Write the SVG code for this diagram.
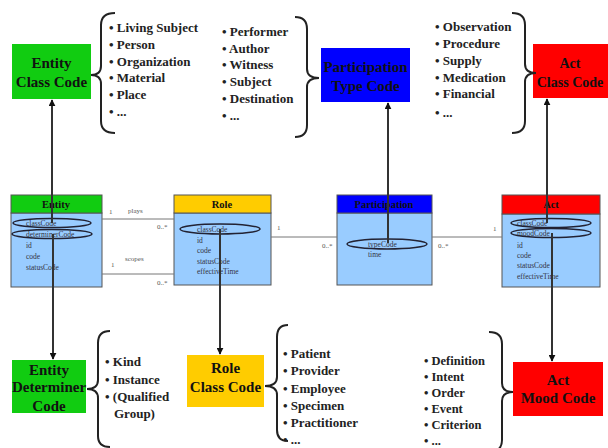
<svg xmlns="http://www.w3.org/2000/svg" width="608" height="448" viewBox="0 0 608 448">
  <defs>
    <marker id="arrow" viewBox="0 0 10 10" refX="9" refY="5" markerWidth="7" markerHeight="7" orient="auto-start-reverse" markerUnits="userSpaceOnUse">
      <path d="M0,0 L10,5 L0,10 z" fill="#111"/>
    </marker>
    <style>
      .title { font-family: "Liberation Serif", serif; font-weight: bold; font-size: 15px; fill: #111; text-anchor: middle; }
      .list { font-family: "Liberation Serif", serif; font-weight: bold; font-size: 13px; fill: #222; }
      .brace { fill: none; stroke: #222; stroke-width: 2; }
      .hdr { stroke: #555; stroke-width: 1; }
      .body { fill: #99ccff; stroke: #555; stroke-width: 1; }
      .cname { font-family: "Liberation Serif", serif; font-weight: bold; font-size: 10.5px; fill: #111; text-anchor: middle; }
      .attr { font-family: "Liberation Serif", serif; font-size: 7.5px; fill: #334; }
      .ell { fill: none; stroke: #223; stroke-width: 1.5; }
      .assoc { stroke: #777; stroke-width: 1; fill: none; }
      .mult { font-family: "Liberation Serif", serif; font-size: 7px; fill: #555; }
      .link { stroke: #333; stroke-width: 2; fill: none; }
    </style>
  </defs>
  <rect width="608" height="448" fill="#ffffff"/>

  <!-- code boxes -->
  <g id="entity-class-code">
    <rect x="12" y="44" width="79" height="55" fill="#11cc11"/>
    <text class="title" x="51.5" y="68">Entity</text>
    <text class="title" x="51.5" y="87">Class Code</text>
  </g>
  <g id="participation-type-code">
    <rect x="321" y="48" width="89" height="54" fill="#0000ff"/>
    <text class="title" x="365.5" y="72">Participation</text>
    <text class="title" x="365.5" y="91">Type Code</text>
  </g>
  <g id="act-class-code">
    <rect x="533" y="44" width="75" height="54" fill="#ff0000"/>
    <text class="title" x="570" y="68" style="font-size:14px">Act</text>
    <text class="title" x="570" y="87" style="font-size:14px">Class Code</text>
  </g>
  <g id="entity-determiner-code">
    <rect x="12" y="360" width="74" height="53" fill="#11cc11"/>
    <text class="title" x="49" y="375">Entity</text>
    <text class="title" x="49" y="392">Determiner</text>
    <text class="title" x="49" y="411">Code</text>
  </g>
  <g id="role-class-code">
    <rect x="187" y="355" width="77" height="52" fill="#ffcc00"/>
    <text class="title" x="225.5" y="373">Role</text>
    <text class="title" x="225.5" y="392">Class Code</text>
  </g>
  <g id="act-mood-code">
    <rect x="513" y="362" width="90" height="54" fill="#ff0000"/>
    <text class="title" x="558" y="385">Act</text>
    <text class="title" x="558" y="403">Mood Code</text>
  </g>

  <!-- value lists with braces -->
  <g id="entity-class-values">
    <path class="brace" d="M115,13 Q101,13 101,25 L101,66 Q101,75 91,75 Q101,75 101,84 L101,121 Q101,133 115,133"/>
    <text class="list" x="109" y="32">• Living Subject</text>
    <text class="list" x="109" y="49">• Person</text>
    <text class="list" x="109" y="66">• Organization</text>
    <text class="list" x="109" y="82">• Material</text>
    <text class="list" x="109" y="99">• Place</text>
    <text class="list" x="109" y="116">• ...</text>
  </g>
  <g id="participation-type-values">
    <text class="list" x="222" y="36">• Performer</text>
    <text class="list" x="222" y="53">• Author</text>
    <text class="list" x="222" y="69">• Witness</text>
    <text class="list" x="222" y="86">• Subject</text>
    <text class="list" x="222" y="103">• Destination</text>
    <text class="list" x="222" y="120">• ...</text>
    <path class="brace" d="M295,17 Q307,17 307,29 L307,69 Q307,78 319,78 Q307,78 307,87 L307,125 Q307,137 295,137"/>
  </g>
  <g id="act-class-values">
    <text class="list" x="435" y="31">• Observation</text>
    <text class="list" x="435" y="48">• Procedure</text>
    <text class="list" x="435" y="65">• Supply</text>
    <text class="list" x="435" y="82">• Medication</text>
    <text class="list" x="435" y="98">• Financial</text>
    <text class="list" x="435" y="117">• ...</text>
    <path class="brace" d="M512,13 Q525,13 525,25 L525,64 Q525,73 536,73 Q525,73 525,82 L525,121 Q525,133 512,133"/>
  </g>
  <g id="entity-determiner-values">
    <path class="brace" d="M110,331 Q98,331 98,343 L98,380 Q98,389 87,389 Q98,389 98,398 L98,436 Q98,447 110,447"/>
    <text class="list" x="105" y="366">• Kind</text>
    <text class="list" x="105" y="384">• Instance</text>
    <text class="list" x="105" y="401">• (Qualified</text>
    <text class="list" x="114" y="418">Group)</text>
  </g>
  <g id="role-class-values">
    <path class="brace" d="M288,325 Q277,325 277,337 L277,377 Q277,386 265,386 Q277,386 277,395 L277,430 Q277,441 288,441"/>
    <text class="list" x="283" y="358">• Patient</text>
    <text class="list" x="283" y="375">• Provider</text>
    <text class="list" x="283" y="393">• Employee</text>
    <text class="list" x="283" y="410">• Specimen</text>
    <text class="list" x="283" y="427">• Practitioner</text>
    <text class="list" x="283" y="444">• ...</text>
  </g>
  <g id="act-mood-values" style="font-size:12.5px">
    <text class="list" x="424" y="365" style="font-size:12.5px">• Definition</text>
    <text class="list" x="424" y="381" style="font-size:12.5px">• Intent</text>
    <text class="list" x="424" y="397" style="font-size:12.5px">• Order</text>
    <text class="list" x="424" y="413" style="font-size:12.5px">• Event</text>
    <text class="list" x="424" y="429" style="font-size:12.5px">• Criterion</text>
    <text class="list" x="424" y="445" style="font-size:12.5px">• ...</text>
    <path class="brace" d="M489,332 Q502,332 502,344 L502,383 Q502,392 513,392 Q502,392 502,401 L502,440 Q502,452 489,452"/>
  </g>

  <!-- class boxes -->
  <g id="entity">
    <rect class="body" x="11" y="213" width="91" height="74"/>
    <rect class="hdr" x="11" y="195" width="91" height="18" fill="#11cc11"/>
    <text class="cname" x="56" y="208">Entity</text>
    <text class="attr" x="26" y="226">classCode</text>
    <text class="attr" x="26" y="237">determinerCode</text>
    <text class="attr" x="26" y="248">id</text>
    <text class="attr" x="26" y="259">code</text>
    <text class="attr" x="26" y="270">statusCode</text>
    <ellipse class="ell" cx="52" cy="223" rx="39" ry="4.5"/>
    <ellipse class="ell" cx="52" cy="234" rx="40" ry="4.5"/>
  </g>
  <g id="role">
    <rect class="body" x="174" y="213" width="97" height="72"/>
    <rect class="hdr" x="174" y="195" width="97" height="18" fill="#ffcc00"/>
    <text class="cname" x="222" y="208">Role</text>
    <text class="attr" x="197" y="232">classCode</text>
    <text class="attr" x="197" y="243">id</text>
    <text class="attr" x="197" y="253">code</text>
    <text class="attr" x="197" y="264">statusCode</text>
    <text class="attr" x="197" y="274">effectiveTime</text>
    <ellipse class="ell" cx="220" cy="229" rx="40" ry="5"/>
  </g>
  <g id="participation">
    <rect class="body" x="337" y="213" width="95" height="72"/>
    <rect class="hdr" x="337" y="195" width="95" height="18" fill="#0000ff"/>
    <text class="cname" x="384" y="208">Participation</text>
    <text class="attr" x="368" y="247">typeCode</text>
    <text class="attr" x="368" y="257">time</text>
    <ellipse class="ell" cx="387" cy="244" rx="40" ry="5"/>
  </g>
  <g id="act">
    <rect class="body" x="502" y="214" width="98" height="73"/>
    <rect class="hdr" x="502" y="195" width="98" height="19" fill="#ff0000"/>
    <text class="cname" x="551" y="208">Act</text>
    <text class="attr" x="517" y="226">classCode</text>
    <text class="attr" x="517" y="236">moodCode</text>
    <text class="attr" x="517" y="248">id</text>
    <text class="attr" x="517" y="258">code</text>
    <text class="attr" x="517" y="268">statusCode</text>
    <text class="attr" x="517" y="279">effectiveTime</text>
    <ellipse class="ell" cx="551" cy="223" rx="40" ry="4.5"/>
    <ellipse class="ell" cx="551" cy="233" rx="40" ry="4.5"/>
  </g>

  <!-- connectors -->
  <g id="connectors">
    <!-- associations between classes -->
    <line class="assoc" x1="102" y1="219" x2="174" y2="219"/>
    <text class="mult" x="109" y="214">1</text>
    <text class="mult" x="128" y="213">plays</text>
    <text class="mult" x="157" y="229">0..*</text>
    <line class="assoc" x1="102" y1="274" x2="174" y2="274"/>
    <text class="mult" x="111" y="267">1</text>
    <text class="mult" x="125" y="261">scopes</text>
    <text class="mult" x="157" y="285">0..*</text>
    <line class="assoc" x1="271" y1="237" x2="337" y2="237"/>
    <text class="mult" x="277" y="230">1</text>
    <text class="mult" x="322" y="248">0..*</text>
    <line class="assoc" x1="432" y1="237" x2="502" y2="237"/>
    <text class="mult" x="438" y="248">0..*</text>
    <text class="mult" x="493" y="231">1</text>

    <!-- attribute to code links -->
    <line class="link" x1="52" y1="223" x2="52" y2="100" marker-end="url(#arrow)"/>
    <line class="link" x1="53" y1="234" x2="53" y2="359" marker-end="url(#arrow)"/>
    <line class="link" x1="220" y1="229" x2="220" y2="354" marker-end="url(#arrow)"/>
    <line class="link" x1="388" y1="243" x2="388" y2="103" marker-end="url(#arrow)"/>
    <line class="link" x1="547" y1="223" x2="547" y2="99" marker-end="url(#arrow)"/>
    <line class="link" x1="552" y1="233" x2="552" y2="361" marker-end="url(#arrow)"/>
  </g>
</svg>
